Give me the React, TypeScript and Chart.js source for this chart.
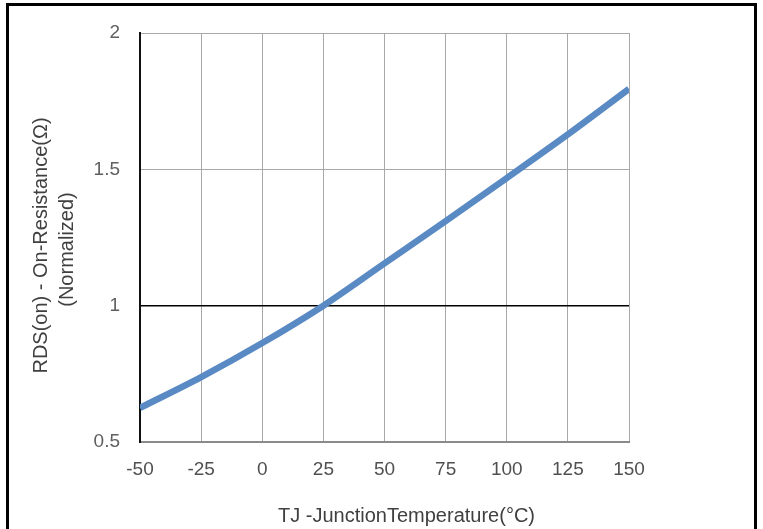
import React, { useEffect, useRef } from 'react';
import { Chart, registerables } from 'chart.js';

Chart.register(...registerables);

const temperatures = [-50, -25, 0, 25, 50, 75, 100, 125, 150];
const rdsNormalized = [0.625, 0.738, 0.863, 1.0, 1.155, 1.31, 1.468, 1.628, 1.795];
const xTitle = 'TJ -JunctionTemperature(°C)';
const yTitle = ['RDS(on) - On-Resistance(Ω)', '(Normalized)'];

const FONT = 'Liberation Sans, Arial, sans-serif';

const axisTitlesPlugin = {
  id: 'axisTitles',
  afterDraw(chart: any) {
    const { ctx, chartArea } = chart;
    ctx.save();
    ctx.fillStyle = '#404040';
    ctx.font = `20px ${FONT}`;
    ctx.textAlign = 'center';
    ctx.textBaseline = 'middle';
    const cx = (chartArea.left + chartArea.right) / 2 + 22;
    ctx.fillText(xTitle, cx, chartArea.bottom + 74);
    const cy = (chartArea.top + chartArea.bottom) / 2 + 8;
    ctx.translate(0, cy);
    ctx.rotate(-Math.PI / 2);
    ctx.fillText(yTitle[0], 0, 41);
    ctx.fillText(yTitle[1], -4, 67);
    ctx.restore();
  },
};

export default function App() {
  const canvasRef = useRef<HTMLCanvasElement | null>(null);

  useEffect(() => {
    document.body.style.margin = '0';
    const canvas = canvasRef.current;
    if (!canvas) return;
    const chart = new Chart(canvas, {
      type: 'line',
      data: {
        datasets: [
          {
            data: temperatures.map((t, i) => ({ x: t, y: rdsNormalized[i] })),
            borderColor: '#5a8ac4',
            borderWidth: 6.5,
            pointRadius: 0,
            cubicInterpolationMode: 'monotone',
            fill: false,
          },
        ],
      },
      options: {
        responsive: false,
        animation: false,
        layout: { padding: { top: 33, right: 134, left: 0, bottom: 0 } },
        plugins: { legend: { display: false }, tooltip: { enabled: false } },
        scales: {
          x: {
            type: 'linear',
            min: -50,
            max: 150,
            ticks: {
              stepSize: 25,
              padding: 16,
              color: '#505050',
              font: { family: FONT, size: 19 },
              maxRotation: 0,
            },
            grid: { color: '#a8a8a8', lineWidth: 1, drawTicks: false },
            border: { color: '#8a8a8a', width: 2 },
            afterFit: (scale: any) => {
              scale.height = 87;
            },
          },
          y: {
            type: 'linear',
            min: 0.5,
            max: 2,
            ticks: {
              stepSize: 0.5,
              padding: 20,
              color: '#606060',
              font: { family: FONT, size: 19 },
              callback: (v: any) => String(Number(v)),
            },
            grid: {
              color: (ctx: any) => (ctx.tick && ctx.tick.value === 1 ? '#000000' : '#a8a8a8'),
              lineWidth: (ctx: any) => (ctx.tick && ctx.tick.value === 1 ? 1.5 : 1),
              drawTicks: false,
            },
            border: { color: '#111111', width: 2 },
            afterFit: (scale: any) => {
              scale.width = 140;
            },
          },
        },
      },
      plugins: [axisTitlesPlugin],
    });
    return () => chart.destroy();
  }, []);

  return (
    <div style={{ position: 'relative', width: 763, height: 529, overflow: 'hidden', background: '#ffffff' }}>
      <div
        style={{
          position: 'absolute',
          left: 6,
          top: 3,
          width: 751,
          height: 560,
          border: '3px solid #000',
          boxSizing: 'border-box',
        }}
      />
      <canvas
        ref={canvasRef}
        width={763}
        height={529}
        style={{ position: 'absolute', left: 0, top: 0, width: 763, height: 529 }}
      />
    </div>
  );
}
